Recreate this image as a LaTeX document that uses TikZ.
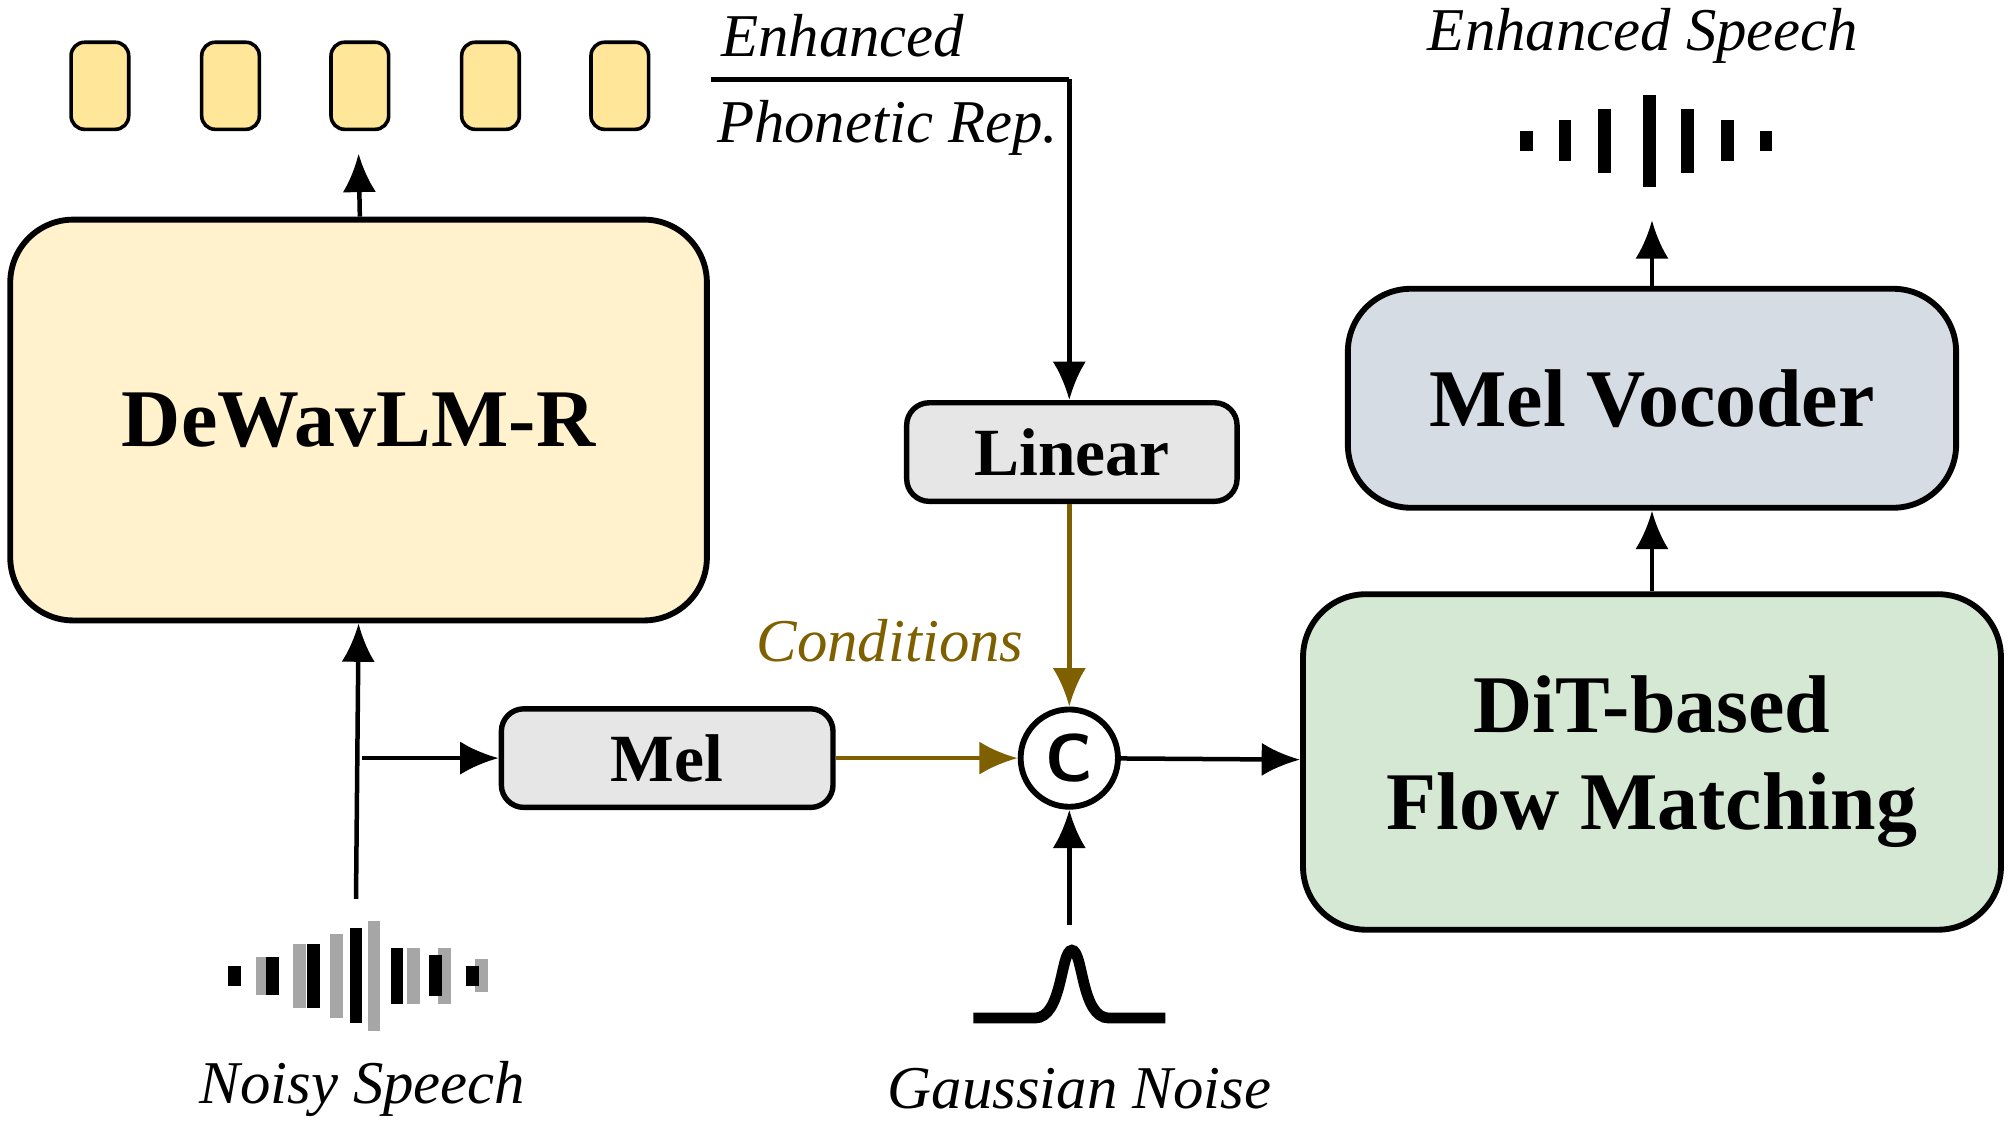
\documentclass[tikz,border=0pt]{standalone}
\usepackage{fontspec}
\setmainfont{Liberation Serif}
\usetikzlibrary{arrows.meta}
\definecolor{lmyellow}{HTML}{FFF2CC}
\definecolor{tokyellow}{HTML}{FFE699}
\definecolor{boxgray}{HTML}{E6E6E6}
\definecolor{vocblue}{HTML}{D6DCE4}
\definecolor{fmgreen}{HTML}{D5E8D4}
\definecolor{condbrown}{HTML}{7F6000}
\tikzstyle{bigblock} = [rectangle, draw, line width=1.3pt, rounded corners=14pt,
    font=\fontsize{18.2}{21.6}\selectfont\bfseries, align=center]
\tikzstyle{smallblock} = [rectangle, draw, line width=1.2pt, rounded corners=5pt,
    fill=boxgray, font=\fontsize{15}{18}\selectfont\bfseries]
\tikzstyle{token} = [rectangle, draw, line width=0.8pt, rounded corners=3pt,
    fill=tokyellow, minimum width=4.5mm, minimum height=6.8mm]
\tikzstyle{label} = [font=\fontsize{13.5}{15}\selectfont\itshape]
\tikzstyle{line} = [draw, line width=1pt, -{Latex[length=3mm,width=2.6mm]}]

\begin{document}
\begin{tikzpicture}[x=0.1mm, y=-0.1mm]
    \useasboundingbox (0,0) rectangle (1568,880);
    % Blocks
    \node [bigblock, fill=lmyellow, minimum width=54.4mm, minimum height=31.3mm] (lm) at (280,328) {DeWavLM-R};
    \node [smallblock, minimum width=25.9mm, minimum height=7.7mm] (mel) at (521,592) {Mel};
    \node [smallblock, minimum width=25.8mm, minimum height=7.7mm] (linear) at (837,353) {Linear};
    \node [circle, draw, line width=1.3pt, minimum size=7.6mm, inner sep=0pt,
        font=\sffamily\bfseries\fontsize{15}{15}\selectfont] (cat) at (835,592) {C};
    \node [bigblock, fill=fmgreen, minimum width=54.5mm, minimum height=26.2mm] (fm) at (1290,595) {DiT-based\\Flow Matching};
    \node [bigblock, fill=vocblue, minimum width=47.5mm, minimum height=17.1mm] (voc) at (1290,311) {Mel Vocoder};
    % Tokens
    \foreach \i/\x in {1/78, 2/180, 3/281, 4/383, 5/484}
        \node [token] (tok\i) at (\x,67) {};
    % Noisy speech waveform
    \foreach \x/\h/\c in {205/15/gray!70, 234/25/gray!70, 263/33/gray!70, 292/43/gray!70,
        323/22/gray!70, 347/22/gray!70, 376/13/gray!70}
        \fill [\c] (\x-5,762-\h) rectangle (\x+5,762+\h);
    \foreach \x/\h in {183/8, 213/15, 245/25, 278/37, 310/22, 340/16, 369/8}
        \fill (\x-5,762-\h) rectangle (\x+5,762+\h);
    \node [label] (noisy) at (283,850) {Noisy Speech};
    \coordinate (nsin) at (278,702);
    \coordinate (split) at (283,592);
    % Gaussian noise
    \draw [line width=2.4pt] (760,795) -- (808,795) .. controls (830,795) and (828,742) .. (837,742)
        .. controls (846,742) and (844,795) .. (866,795) -- (910,795);
    \node [label] (noise) at (843,850) {Gaussian Noise};
    \coordinate (gsin) at (835,722);
    % Enhanced speech waveform
    \foreach \x/\h in {1192/8, 1222/16, 1253/25, 1288/36, 1318/25, 1349/16, 1379/8}
        \fill (\x-5,110-\h) rectangle (\x+5,110+\h);
    \node [label] (enh) at (1283,28) {Enhanced Speech};
    % Phonetic representation
    \node [label] (rep1) at (658,28) {Enhanced};
    \node [label] (rep2) at (693,100) {Phonetic Rep.};
    \coordinate (repstart) at (555,62);
    \coordinate (repturn) at (835,62);
    \node [label, text=condbrown] (cond) at (695,500) {Conditions};
    % Edges
    \path [line] (lm.north -| tok3) -- (280,120);
    \path [line] (nsin) -- (lm.south);
    \path [line] (split) -- (mel.west);
    \path [line, condbrown] (mel) -- (cat);
    \path [line, condbrown] (linear.south -| cat) -- (cat);
    \path [line] (gsin) -- (cat);
    \path [line] (cat) -- (fm);
    \path [line] (fm.north) -- (voc.south);
    \path [line] (voc.north) -- (1290,172);
    \draw [line width=1pt] (repstart) -- (repturn);
    \path [line] (repturn) -- (linear.north -| repturn);
\end{tikzpicture}
\end{document}
